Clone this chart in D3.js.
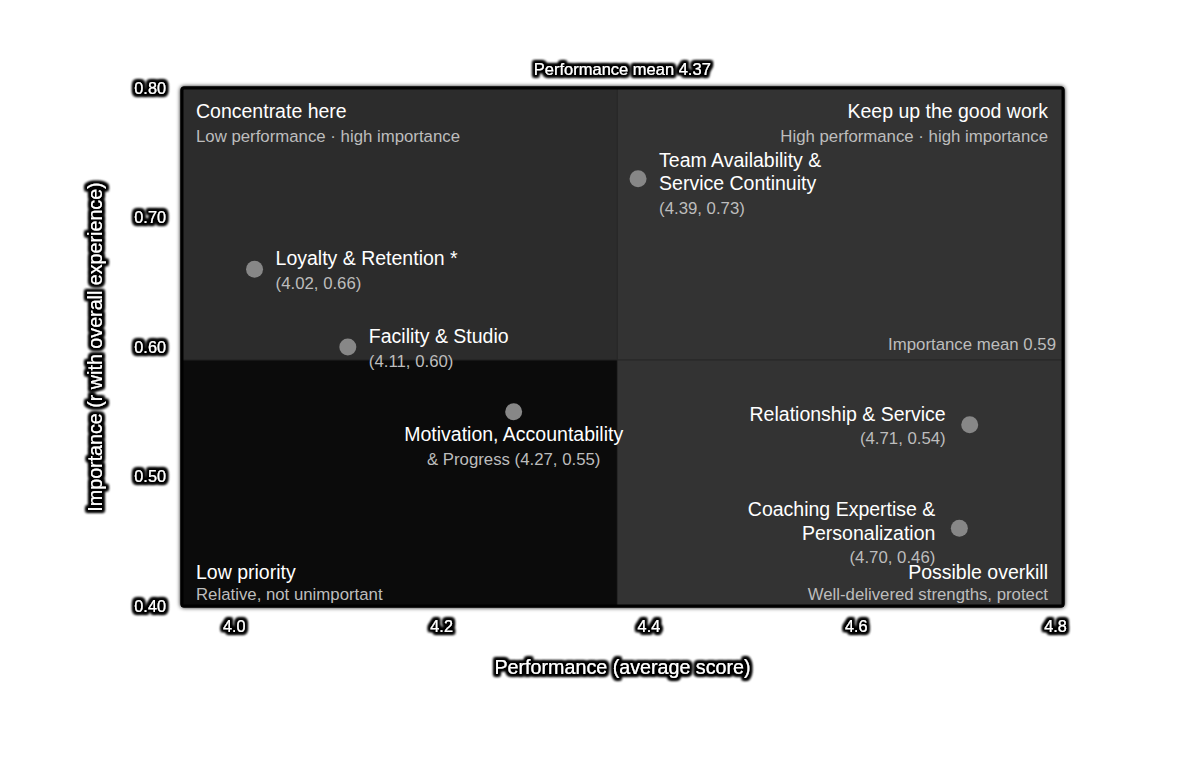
<!DOCTYPE html>
<html>
<head>
<meta charset="utf-8">
<script src="https://cdn.jsdelivr.net/npm/d3@7"></script>
<style>
  body { margin: 0; background: #fff; }
  svg { font-family: "Liberation Sans", Arial, Helvetica, sans-serif; }
</style>
</head>
<body>
<div id="chart"></div>
<script>
// data
var drivers = ["Loyalty & Retention *", "Facility & Studio", "Team Availability & Service Continuity",
               "Motivation, Accountability & Progress", "Relationship & Service", "Coaching Expertise & Personalization"];
var nameLines = [["Loyalty & Retention *"], ["Facility & Studio"], ["Team Availability &", "Service Continuity"],
                 ["Motivation, Accountability", "& Progress"], ["Relationship & Service"], ["Coaching Expertise &", "Personalization"]];
var performance = [4.02, 4.11, 4.39, 4.27, 4.71, 4.70];
var importance = [0.66, 0.60, 0.73, 0.55, 0.54, 0.46];
var xTicks = [4.0, 4.2, 4.4, 4.6, 4.8];
var yTicks = [0.40, 0.50, 0.60, 0.70, 0.80];
var perfMean = 4.37, impMean = 0.59;
var quadTitles = ["Concentrate here", "Keep up the good work", "Low priority", "Possible overkill"];
var quadSubs = ["Low performance \u00b7 high importance", "High performance \u00b7 high importance",
                "Relative, not unimportant", "Well-delivered strengths, protect"];

// label side for each point (layout only)
var labelSide = ["right", "right", "right", "below", "left", "left"];

var w = 1200, h = 764;
var margin = {top: 88, right: 137, bottom: 158, left: 182};

var svg = d3.select("#chart").append("svg")
    .attr("width", w)
    .attr("height", h);

var defs = svg.append("defs");
var shadow = defs.append("filter").attr("id", "box-shadow")
    .attr("x", "-5%").attr("y", "-5%").attr("width", "110%").attr("height", "110%");
shadow.append("feGaussianBlur").attr("in", "SourceAlpha").attr("stdDeviation", 2).attr("result", "blur");
var fm = shadow.append("feMerge");
fm.append("feMergeNode").attr("in", "blur");
fm.append("feMergeNode").attr("in", "SourceGraphic");

// black glow behind white text
var glow = defs.append("filter").attr("id", "glow")
    .attr("x", "-20%").attr("y", "-50%").attr("width", "140%").attr("height", "200%");
glow.append("feMorphology").attr("in", "SourceAlpha").attr("operator", "dilate").attr("radius", 2.2).attr("result", "d");
glow.append("feGaussianBlur").attr("in", "d").attr("stdDeviation", 1.7).attr("result", "b");
var gm = glow.append("feMerge");
gm.append("feMergeNode").attr("in", "b");
gm.append("feMergeNode").attr("in", "b");
gm.append("feMergeNode").attr("in", "b");
gm.append("feMergeNode").attr("in", "SourceGraphic");

// scales
var x = d3.scaleLinear().domain([3.95, 4.80]).range([margin.left, w - margin.right]);
var y = d3.scaleLinear().domain([0.40, 0.80]).range([h - margin.bottom, margin.top]);

var x0 = x.range()[0], x1 = x.range()[1], y0 = y.range()[1], y1 = y.range()[0];
var mx = x(perfMean), my = y(impMean);

// plot frame with shadow
svg.append("rect")
    .attr("x", x0).attr("y", y0)
    .attr("width", x1 - x0).attr("height", y1 - y0)
    .attr("rx", 2)
    .attr("fill", "#333")
    .attr("stroke", "#000")
    .attr("stroke-width", 3)
    .attr("filter", "url(#box-shadow)");

// quadrants
var quads = [
  {x: x0, y: y0, w: mx - x0, h: my - y0, fill: "#2c2c2c"},
  {x: mx, y: y0, w: x1 - mx, h: my - y0, fill: "#333333"},
  {x: x0, y: my, w: mx - x0, h: y1 - my, fill: "#0b0b0b"},
  {x: mx, y: my, w: x1 - mx, h: y1 - my, fill: "#333333"}
];
svg.selectAll(".quad").data(quads).enter().append("rect")
    .attr("class", "quad")
    .attr("x", function(d){ return d.x; })
    .attr("y", function(d){ return d.y; })
    .attr("width", function(d){ return d.w; })
    .attr("height", function(d){ return d.h; })
    .attr("fill", function(d){ return d.fill; });

// mean lines
svg.append("line").attr("x1", mx).attr("x2", mx).attr("y1", y0).attr("y2", y1)
    .attr("stroke", "#262626").attr("stroke-width", 1);
svg.append("line").attr("x1", x0).attr("x2", x1).attr("y1", my).attr("y2", my)
    .attr("stroke", "#262626").attr("stroke-width", 1);

// frame border on top
svg.append("rect")
    .attr("x", x0).attr("y", y0)
    .attr("width", x1 - x0).attr("height", y1 - y0)
    .attr("rx", 2)
    .attr("fill", "none")
    .attr("stroke", "#000")
    .attr("stroke-width", 3);

// quadrant labels
var qpos = [
  {x: x0 + 14, anchor: "start", ty: y0 + 30, sy: y0 + 54},
  {x: x1 - 15, anchor: "end", ty: y0 + 30, sy: y0 + 54},
  {x: x0 + 14, anchor: "start", ty: y1 - 27, sy: y1 - 6},
  {x: x1 - 15, anchor: "end", ty: y1 - 27, sy: y1 - 6}
];
qpos.forEach(function(q, i) {
  svg.append("text").attr("x", q.x).attr("y", q.ty)
      .attr("text-anchor", q.anchor)
      .attr("fill", "#fff").style("font-size", "19.5px")
      .text(quadTitles[i]);
  svg.append("text").attr("x", q.x).attr("y", q.sy)
      .attr("text-anchor", q.anchor)
      .attr("fill", "#bdbdbd").style("font-size", "16.8px")
      .text(quadSubs[i]);
});

// mean annotations
svg.append("text")
    .attr("x", x1 - 7).attr("y", my - 10)
    .attr("text-anchor", "end")
    .attr("fill", "#bdbdbd").style("font-size", "16.8px")
    .text("Importance mean " + impMean.toFixed(2));
svg.append("text")
    .attr("x", mx + 5).attr("y", y0 - 13)
    .attr("text-anchor", "middle")
    .attr("fill", "#fff").style("font-size", "16.5px")
    .attr("filter", "url(#glow)")
    .text("Performance mean " + perfMean.toFixed(2));

// axes
var xAxis = d3.axisBottom(x).tickValues(xTicks).tickSize(0).tickPadding(12).tickFormat(d3.format(".1f"));
var yAxis = d3.axisLeft(y).tickValues(yTicks).tickSize(0).tickPadding(16).tickFormat(d3.format(".2f"));

var gx = svg.append("g").attr("transform", "translate(0," + (y1 + 2) + ")").call(xAxis);
var gy = svg.append("g").attr("transform", "translate(" + x0 + ",0)").call(yAxis);
[gx, gy].forEach(function(g) {
  g.select(".domain").remove();
  g.selectAll("text")
      .attr("fill", "#fff")
      .attr("filter", "url(#glow)")
      .style("font-size", "16.3px")
      .style("font-family", "'Liberation Sans', Arial, sans-serif");
});
gx.selectAll(".tick text").attr("dx", function(d){ return d === 4.8 ? -8 : 0; });

// axis titles
svg.append("text")
    .attr("x", (x0 + x1) / 2).attr("y", y1 + 68)
    .attr("text-anchor", "middle")
    .attr("fill", "#fff").style("font-size", "19.7px")
    .attr("filter", "url(#glow)")
    .text("Performance (average score)");
svg.append("text")
    .attr("transform", "translate(102," + ((y0 + y1) / 2) + ") rotate(-90)")
    .attr("text-anchor", "middle")
    .attr("fill", "#fff").style("font-size", "19.7px")
    .attr("filter", "url(#glow)")
    .text("Importance (r with overall experience)");

// points
var points = drivers.map(function(d, i) {
  return {name: d, lines: nameLines[i], p: performance[i], imp: importance[i], side: labelSide[i]};
});

var nodes = svg.selectAll(".node").data(points).enter().append("g")
    .attr("class", "node")
    .attr("transform", function(d){ return "translate(" + x(d.p) + "," + y(d.imp) + ")"; });

nodes.append("circle")
    .attr("r", 8.5)
    .attr("fill", "#878787");

nodes.each(function(d) {
  var g = d3.select(this);
  var coord = "(" + d.p.toFixed(2) + ", " + d.imp.toFixed(2) + ")";
  if (d.side === "below") {
    g.append("text").attr("x", 0).attr("y", 29)
        .attr("text-anchor", "middle").attr("fill", "#fff").style("font-size", "19.5px")
        .text(d.lines[0]);
    g.append("text").attr("x", 0).attr("y", 53)
        .attr("text-anchor", "middle").attr("fill", "#bdbdbd").style("font-size", "16.8px")
        .text(d.lines.slice(1).join(" ") + " " + coord);
    return;
  }
  var dx = d.side === "right" ? 21 : -24;
  var anchor = d.side === "right" ? "start" : "end";
  var top = -4 - 8 * (d.lines.length - 1);
  d.lines.forEach(function(line, k) {
    g.append("text").attr("x", dx).attr("y", top + k * 23.5)
        .attr("text-anchor", anchor).attr("fill", "#fff").style("font-size", "19.5px")
        .text(line);
  });
  g.append("text").attr("x", dx).attr("y", top + d.lines.length * 23.5)
      .attr("text-anchor", anchor).attr("fill", "#bdbdbd").style("font-size", "16.8px")
      .text(coord);
});
</script>
</body>
</html>
